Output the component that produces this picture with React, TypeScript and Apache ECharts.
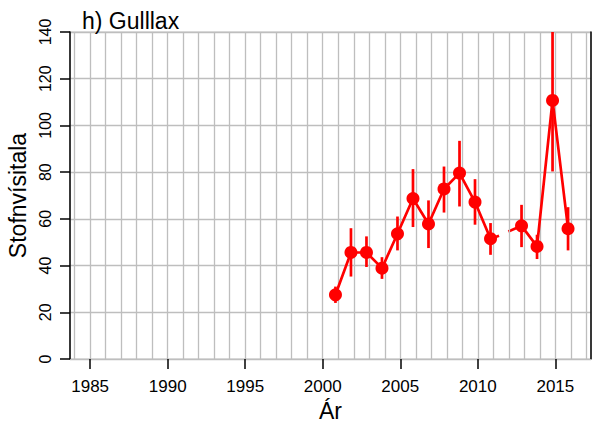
import React, { useEffect, useRef } from "react";
import * as echarts from "echarts";

// ---- data ----
const years = [2001, 2002, 2003, 2004, 2005, 2006, 2007, 2008, 2009, 2010, 2011, 2012, 2013, 2014, 2015, 2016];
const index = [27.5, 45.6, 45.6, 38.9, 53.6, 68.7, 57.8, 72.8, 79.6, 67.2, 51.5, null, 57.0, 48.2, 110.7, 55.8];
const lower = [24.0, 35.3, 39.4, 34.3, 46.5, 56.5, 47.5, 62.7, 65.3, 57.5, 44.6, null, 47.9, 42.8, 80.3, 46.5];
const upper = [31.0, 56.0, 52.5, 43.6, 61.0, 81.3, 67.9, 82.4, 93.4, 77.0, 58.2, null, 66.0, 53.2, 150.0, 65.0];
// points are plotted slightly before the year mark
const xShift = -0.18;
// short line pieces across the 2012 gap (2011 -> 2013), as drawn in the reference
const gapStubs = [
  [[2010.82, 51.5], [2011.37, 52.8]],
  [[2011.97, 54.6], [2012.82, 57.0]],
];
const xTickLabels = [1985, 1990, 1995, 2000, 2005, 2010, 2015];
const gridYears = [1984, 1985, 1986, 1987, 1988, 1989, 1990, 1991, 1992, 1993, 1994, 1995, 1996, 1997, 1998, 1999, 2000, 2001, 2002, 2003, 2004, 2005, 2006, 2007, 2008, 2009, 2010, 2011, 2012, 2013, 2014, 2015, 2016, 2017];

const FONT = '"Liberation Sans", Arial, Helvetica, sans-serif';
const RED = "#FF0000";
const GRID = "#BEBEBE";
const Y_MAX = 140;

export default function App() {
  const ref = useRef<HTMLDivElement>(null);

  useEffect(() => {
    if (!ref.current) return;
    const chart = echarts.init(ref.current, null, { renderer: "svg" });

    // split main line at missing years
    const segments: number[][][] = [];
    let cur: number[][] = [];
    years.forEach((y, i) => {
      const v = index[i];
      if (v === null) {
        if (cur.length) segments.push(cur);
        cur = [];
      } else {
        cur.push([y + xShift, v]);
      }
    });
    if (cur.length) segments.push(cur);

    const errData = years
      .map((y, i) => (index[i] === null ? null : [y + xShift, lower[i], upper[i]]))
      .filter((d) => d !== null);

    const lineSeries = segments.map((seg) => ({
      type: "line",
      data: seg,
      z: 5,
      symbol: "circle",
      symbolSize: 13,
      itemStyle: { color: RED },
      lineStyle: { color: RED, width: 2.7 },
      silent: true,
    }));

    const stubSeries = gapStubs.map((seg) => ({
      type: "line",
      data: seg,
      z: 4,
      symbol: "none",
      lineStyle: { color: RED, width: 2.7 },
      silent: true,
    }));

    const option: any = {
      animation: false,
      backgroundColor: "#ffffff",
      grid: {
        left: 70,
        top: 32,
        width: 521,
        height: 327,
        show: true,
        borderColor: GRID,
        borderWidth: 1,
        backgroundColor: "transparent",
        outerBoundsMode: "none",
        containLabel: false,
      },
      title: {
        text: "h) Gulllax",
        left: 77,
        top: 4,
        textStyle: { fontFamily: FONT, fontSize: 23, fontWeight: "normal", color: "#000" },
      },
      xAxis: {
        type: "value",
        min: 1983.7,
        max: 2017.3,
        name: "Ár",
        nameLocation: "middle",
        nameGap: 38,
        nameTextStyle: { fontFamily: FONT, fontSize: 23, color: "#000" },
        axisLine: { show: true, lineStyle: { color: GRID, width: 1 } },
        axisTick: {
          show: true,
          customValues: xTickLabels,
          length: 10,
          lineStyle: { color: "#000", width: 1.5 },
        },
        axisLabel: {
          customValues: xTickLabels,
          formatter: (v: number) => String(v),
          fontFamily: FONT,
          fontSize: 17,
          color: "#000",
          margin: 19,
        },
        splitLine: { show: false },
      },
      yAxis: [
        {
          type: "value",
          min: 0,
          max: Y_MAX,
          interval: 20,
          name: "Stofnvísitala",
          nameLocation: "middle",
          nameGap: 40,
          nameTextStyle: { fontFamily: FONT, fontSize: 23, color: "#000" },
          axisLine: { show: true, lineStyle: { color: "#000", width: 1.5 } },
          axisTick: { show: true, length: 10, lineStyle: { color: "#000", width: 1.5 } },
          axisLabel: {
            rotate: 90,
            fontFamily: FONT,
            fontSize: 16,
            color: "#000",
            margin: 17,
          },
          splitLine: { show: true, lineStyle: { color: GRID, width: 1.3 } },
        },
        {
          type: "value",
          position: "right",
          min: 0,
          max: Y_MAX,
          interval: 20,
          axisLine: { show: true, lineStyle: { color: "#000", width: 1.5 } },
          axisTick: { show: false },
          axisLabel: { show: false },
          splitLine: { show: false },
        },
      ],
      series: [
        {
          type: "line",
          data: [],
          z: 1,
          silent: true,
          markLine: {
            silent: true,
            symbol: ["none", "none"],
            label: { show: false },
            animation: false,
            lineStyle: { color: GRID, width: 1.3, type: "solid" },
            data: gridYears.map((y) => ({ xAxis: y })),
          },
        },
        {
          type: "custom",
          z: 3,
          silent: true,
          data: errData,
          encode: { x: 0, y: [1, 2] },
          renderItem: (params: any, api: any) => {
            const x = api.value(0);
            const lo = api.value(1);
            const hi = Math.min(api.value(2), Y_MAX);
            const p1 = api.coord([x, lo]);
            const p2 = api.coord([x, hi]);
            return {
              type: "line",
              shape: { x1: p1[0], y1: p1[1], x2: p2[0], y2: p2[1] },
              style: { stroke: RED, lineWidth: 2.7 },
            };
          },
        },
        ...stubSeries,
        ...lineSeries,
      ],
    };

    chart.setOption(option);
    return () => chart.dispose();
  }, []);

  return (
    <div
      ref={ref}
      style={{ position: "absolute", left: 0, top: 0, width: 598, height: 423, background: "#fff" }}
    />
  );
}
